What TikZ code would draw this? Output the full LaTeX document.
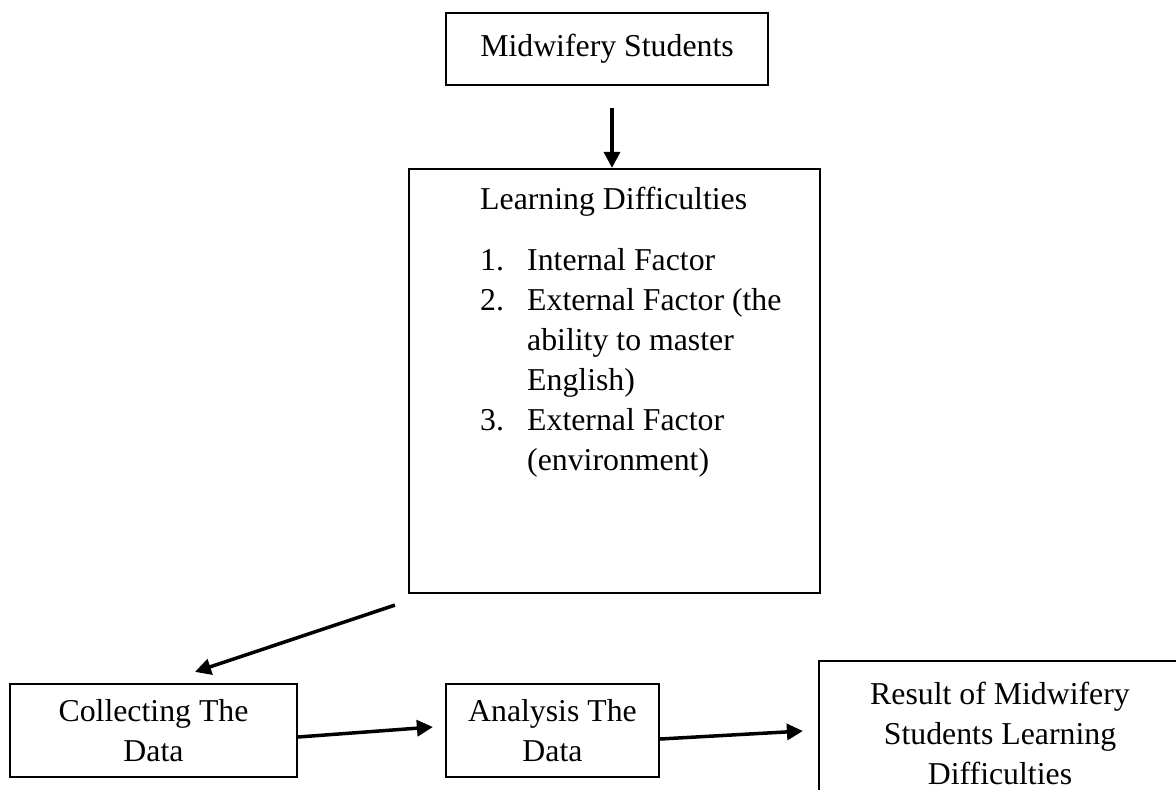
\documentclass[tikz,border=0pt]{standalone}
\usepackage{fontspec}
\setmainfont{Liberation Serif}
\usetikzlibrary{arrows.meta}

\begin{document}
\begin{tikzpicture}[x=1pt,y=-1pt,
	box/.style={draw, line width=2.2pt, inner sep=0pt, align=center, font=\fontsize{31.8}{40}\selectfont},
	txt/.style={inner sep=0pt, font=\fontsize{31.8}{40}\selectfont},
	arr/.style={-{Triangle[length=16pt,width=16pt]}, line width=3.5pt}]

\useasboundingbox (0,0) rectangle (1176,790);

% boxes
\node[box, minimum width=322pt, minimum height=72pt] (students) at (607,49) {Midwifery Students};
\node[box, minimum width=411pt, minimum height=424pt] (learn) at (614.5,381) {};
\node[box, minimum width=287pt, minimum height=93pt] (collect) at (153.5,730.5) {Collecting The\\Data};
\node[box, minimum width=213pt, minimum height=93pt] (analysis) at (552.5,730.5) {Analysis The\\Data};
\node[box, minimum width=362pt, minimum height=144pt] (result) at (1000,733) {Result of Midwifery\\Students Learning\\Difficulties};

% learning difficulties
\node[txt, anchor=base west] (title) at (480,209) {Learning Difficulties};
\node[txt, anchor=north west] (factors) at (480,242) {%
	\begin{tabular}{@{}p{47pt}@{}l@{}}
	1. & Internal Factor\\
	2. & External Factor (the\\
	   & ability to master\\
	   & English)\\
	3. & External Factor\\
	   & (environment)
	\end{tabular}};

% arrows
\draw[arr, shorten <=22pt] ([xshift=5pt]students.south) -- ([xshift=-2.5pt]learn.north);
\draw[arr] ([xshift=-13pt,yshift=-11pt]learn.south west) -- ([xshift=41.5pt,yshift=11pt]collect.north);
\draw[arr] ([yshift=-6.5pt]collect.east) -- ([xshift=-12pt,yshift=3.5pt]analysis.west);
\draw[arr] ([yshift=-8.5pt]analysis.east) -- ([xshift=-15pt,yshift=2pt]result.west);

\end{tikzpicture}
\end{document}
